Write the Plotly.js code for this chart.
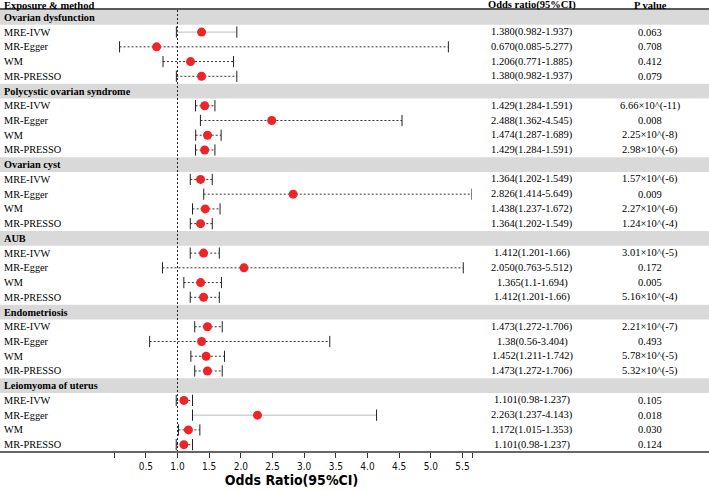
<!DOCTYPE html>
<html>
<head>
<meta charset="utf-8">
<script src="https://cdn.plot.ly/plotly-3.0.1.min.js"></script>
<style>html,body{margin:0;padding:0;background:#fff;}#chart{width:709px;height:490px;}</style>
</head>
<body>
<div id="chart"></div>
<script>
// ---- data ----
const exposures = ["Ovarian dysfunction", "Polycystic ovarian syndrome", "Ovarian cyst", "AUB", "Endometriosis", "Leiomyoma of uterus"];
const methods = ["MRE-IVW", "MR-Egger", "WM", "MR-PRESSO"];
const orValues = [1.380, 0.670, 1.206, 1.380,
                  1.429, 2.488, 1.474, 1.429,
                  1.364, 2.826, 1.438, 1.364,
                  1.412, 2.050, 1.365, 1.412,
                  1.473, 1.38, 1.452, 1.473,
                  1.101, 2.263, 1.172, 1.101];
const ciLower = [0.982, 0.085, 0.771, 0.982,
                 1.284, 1.362, 1.287, 1.284,
                 1.202, 1.414, 1.237, 1.202,
                 1.201, 0.763, 1.1, 1.201,
                 1.272, 0.56, 1.211, 1.272,
                 0.98, 1.237, 1.015, 0.98];
const ciUpper = [1.937, 5.277, 1.885, 1.937,
                 1.591, 4.545, 1.689, 1.591,
                 1.549, 5.649, 1.672, 1.549,
                 1.66, 5.512, 1.694, 1.66,
                 1.706, 3.404, 1.742, 1.706,
                 1.237, 4.143, 1.353, 1.237];
const ciText = ["1.380(0.982-1.937)", "0.670(0.085-5.277)", "1.206(0.771-1.885)", "1.380(0.982-1.937)",
                "1.429(1.284-1.591)", "2.488(1.362-4.545)", "1.474(1.287-1.689)", "1.429(1.284-1.591)",
                "1.364(1.202-1.549)", "2.826(1.414-5.649)", "1.438(1.237-1.672)", "1.364(1.202-1.549)",
                "1.412(1.201-1.66)", "2.050(0.763-5.512)", "1.365(1.1-1.694)", "1.412(1.201-1.66)",
                "1.473(1.272-1.706)", "1.38(0.56-3.404)", "1.452(1.211-1.742)", "1.473(1.272-1.706)",
                "1.101(0.98-1.237)", "2.263(1.237-4.143)", "1.172(1.015-1.353)", "1.101(0.98-1.237)"];
const pText = ["0.063", "0.708", "0.412", "0.079",
               "6.66×10^(-11)", "0.008", "2.25×10^(-8)", "2.98×10^(-6)",
               "1.57×10^(-6)", "0.009", "2.27×10^(-6)", "1.24×10^(-4)",
               "3.01×10^(-5)", "0.172", "0.005", "5.16×10^(-4)",
               "2.21×10^(-7)", "0.493", "5.78×10^(-5)", "5.32×10^(-5)",
               "0.105", "0.018", "0.030", "0.124"];
const xTickVals = [0, 0.5, 1.0, 1.5, 2.0, 2.5, 3.0, 3.5, 4.0, 4.5, 5.0, 5.5, 5.65];
const xTickText = ["", "0.5", "1.0", "1.5", "2.0", "2.5", "3.0", "3.5", "4.0", "4.5", "5.0", "5.5", ""];
const refValue = 1;

// ---- styling ----
const solidGrayRows = [0, 21]; // indices (into data arrays) drawn with light solid line
const W = 709, ML = 111, MR = 237, MT = 10, MB = 38;
const PW = W - ML - MR;
const px = p => (p - ML) / PW;
const serif = "Liberation Serif, Times New Roman, serif";
const narrow = "DejaVu Sans Condensed, Liberation Sans Narrow, Arial Narrow, Roboto, sans-serif";
const nMeth = methods.length;
const nRows = exposures.length * (nMeth + 1);
const LBL = 10.3, NUM = 10.5;

const rowOf = k => Math.floor(k / nMeth) * (nMeth + 1) + 1 + (k % nMeth);

const traces = [];
const annotations = [];
const shapes = [];

// bands
exposures.forEach((e, i) => {
  const r = i * (nMeth + 1);
  shapes.push({type: 'rect', xref: 'paper', yref: 'y', x0: px(0), x1: px(W), y0: r - 0.5, y1: r + 0.5,
    fillcolor: '#d9d9d9', line: {width: 0}, layer: 'below'});
  annotations.push({xref: 'paper', yref: 'y', x: px(2), y: r, text: '<b>' + e + '</b>', showarrow: false,
    xanchor: 'left', yanchor: 'middle', font: {family: serif, size: LBL, color: '#000'}});
});

// CI lines
orValues.forEach((v, k) => {
  const r = rowOf(k);
  const gray = solidGrayRows.includes(k);
  traces.push({type: 'scatter', mode: 'lines', x: [ciLower[k], ciUpper[k]], y: [r, r], hoverinfo: 'skip',
    line: gray ? {color: '#bdbdbd', width: 1} : {color: '#333', width: 1, dash: '2px,2px'}, showlegend: false});
  annotations.push({xref: 'paper', yref: 'y', x: px(2), y: r, text: methods[k % nMeth], showarrow: false,
    xanchor: 'left', yanchor: 'middle', font: {family: serif, size: LBL, color: '#000'}});
  annotations.push({xref: 'paper', yref: 'y', x: px(532), y: r, text: ciText[k], showarrow: false,
    xanchor: 'center', yanchor: 'middle', font: {family: serif, size: NUM, color: '#000'}});
  annotations.push({xref: 'paper', yref: 'y', x: px(650), y: r, text: pText[k], showarrow: false,
    xanchor: 'center', yanchor: 'middle', font: {family: serif, size: NUM, color: '#000'}});
});

// caps
const rows = orValues.map((v, k) => rowOf(k));
traces.push({type: 'scatter', mode: 'markers', x: ciLower.concat(ciUpper), y: rows.concat(rows),
  marker: {symbol: 'line-ns', size: 8, line: {color: '#222', width: 1}}, hoverinfo: 'skip', showlegend: false});
// points
traces.push({type: 'scatter', mode: 'markers', x: orValues, y: rows,
  marker: {symbol: 'circle', size: 9, color: '#ee2426'}, showlegend: false});

// headers
annotations.push({xref: 'paper', yref: 'paper', x: px(2), y: 1 + 5 / 442, text: '<b>Exposure & method</b>', showarrow: false,
  xanchor: 'left', yanchor: 'middle', font: {family: serif, size: 10.5, color: '#000'}});
annotations.push({xref: 'paper', yref: 'paper', x: px(532), y: 1 + 5 / 442, text: '<b>Odds ratio(95%CI)</b>', showarrow: false,
  xanchor: 'center', yanchor: 'middle', font: {family: serif, size: 10.5, color: '#000'}});
annotations.push({xref: 'paper', yref: 'paper', x: px(650), y: 1 + 5 / 442, text: '<b>P value</b>', showarrow: false,
  xanchor: 'center', yanchor: 'middle', font: {family: serif, size: 10.5, color: '#000'}});

// lines
shapes.push({type: 'line', xref: 'paper', yref: 'paper', x0: px(0), x1: px(W), y0: 1 + 1 / 442, y1: 1 + 1 / 442,
  line: {color: '#222', width: 1.5}});
shapes.push({type: 'line', xref: 'paper', yref: 'paper', x0: px(0), x1: px(W), y0: 0, y1: 0,
  line: {color: '#666', width: 2}});
shapes.push({type: 'line', xref: 'x', yref: 'paper', x0: refValue, x1: refValue, y0: 0, y1: 1,
  line: {color: '#222', width: 1, dash: '2px,2px'}, layer: 'below'});

const layout = {
  width: 709, height: 490,
  margin: {l: ML, r: MR, t: MT, b: MB, pad: 0},
  paper_bgcolor: '#fff', plot_bgcolor: 'rgba(0,0,0,0)',
  showlegend: false,
  xaxis: {range: [-0.05, 5.65], tickvals: xTickVals, ticktext: xTickText, showgrid: false, zeroline: false,
    showline: false, ticks: 'outside', ticklen: 5, tickcolor: '#333', tickwidth: 1,
    tickfont: {family: narrow, size: 10, color: '#111'},
    title: {text: '<b>Odds Ratio(95%CI)</b>', standoff: 3,
      font: {family: narrow, size: 14, color: '#000'}},
    automargin: false,
    fixedrange: true},
  yaxis: {range: [nRows - 0.5, -0.5], visible: false, showgrid: false, zeroline: false, fixedrange: true},
  shapes: shapes,
  annotations: annotations
};

Plotly.newPlot('chart', traces, layout, {displayModeBar: false, staticPlot: true});
</script>
</body>
</html>
